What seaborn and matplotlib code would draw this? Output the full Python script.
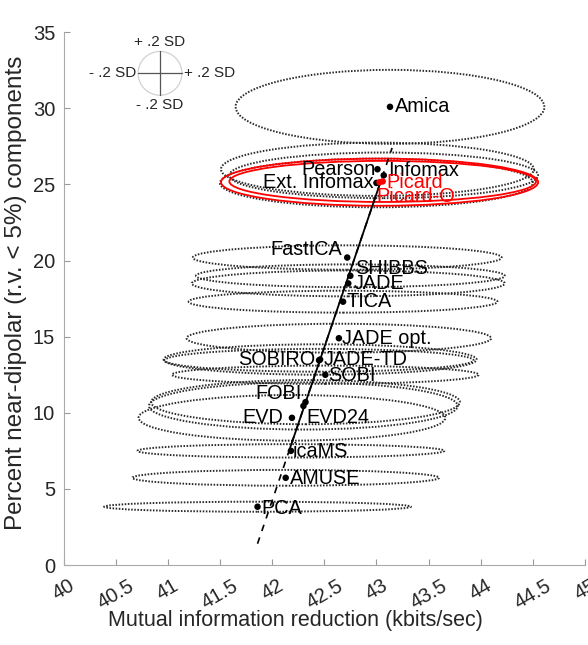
import numpy as np
import pandas as pd
import matplotlib
matplotlib.use('Agg')
import matplotlib.pyplot as plt
from matplotlib.patches import Ellipse
import seaborn as sns

# method summaries: mean mutual information reduction and percent near-dipolar
methods = ['Amica', 'Pearson', 'Infomax', 'Ext. Infomax', 'Picard', 'Picard-O',
           'FastICA', 'SHIBBS', 'JADE', 'TICA', 'JADE opt.', 'SOBIRO', 'JADE-TD',
           'SOBI', 'FOBI', 'EVD24', 'EVD', 'icaMS', 'AMUSE', 'PCA']
mir = [43.13, 43.01, 43.07, 43.00, 43.06, 43.03,
       42.72, 42.75, 42.73, 42.68, 42.64, 42.45, 42.46,
       42.51, 42.32, 42.30, 42.19, 42.18, 42.13, 41.86]
dipolar = [30.1, 26.0, 25.6, 25.1, 25.2, 25.15,
           20.2, 19.0, 18.5, 17.3, 14.9, 13.45, 13.5,
           12.5, 10.7, 10.45, 9.67, 7.5, 5.73, 3.83]
# ellipse half axes (x in kbits/sec, y in percent)
sd_x = [1.48, 1.50, 1.48, 1.50, 1.47, 1.52,
        1.48, 1.48, 1.50, 1.48, 1.46, 1.48, 1.50,
        1.47, 1.48, 1.48, 1.47, 1.47, 1.47, 1.47]
sd_y = [2.43, 1.75, 1.5, 1.6, 1.35, 1.55,
        0.8, 0.75, 0.85, 0.72, 0.95, 0.75, 1.0,
        0.6, 1.45, 1.55, 1.5, 0.44, 0.52, 0.33]
red_methods = ['Picard', 'Picard-O']

# regression line
fit_x = [41.86, 43.15]
fit_y = [1.4, 27.4]
solid_y = [7.5, 25.2]

df = pd.DataFrame({'method': methods, 'mir': mir, 'dipolar': dipolar,
                   'sdx': sd_x, 'sdy': sd_y})
df['red'] = df['method'].isin(red_methods)

# label placement: (dx, dy, ha)
label_pos = {
    'Amica': (0.05, 0.0, 'left'), 'Pearson': (-0.02, 0.0, 'right'),
    'Infomax': (0.04, 0.35, 'left'), 'Ext. Infomax': (-0.03, 0.0, 'right'),
    'Picard': (0.04, -0.1, 'left'), 'Picard-O': (-0.03, -0.95, 'left'),
    'FastICA': (-0.05, 0.5, 'right'), 'SHIBBS': (0.045, 0.5, 'left'),
    'JADE': (0.05, 0.0, 'left'), 'TICA': (0.035, 0.0, 'left'),
    'JADE opt.': (0.03, 0.0, 'left'), 'SOBIRO': (-0.04, 0.05, 'right'),
    'JADE-TD': (0.03, 0.0, 'left'), 'SOBI': (0.03, -0.05, 'left'),
    'FOBI': (-0.04, 0.57, 'right'), 'EVD24': (0.025, -0.75, 'left'),
    'EVD': (-0.08, 0.03, 'right'), 'icaMS': (0.02, -0.06, 'left'),
    'AMUSE': (0.04, -0.04, 'left'), 'PCA': (0.04, -0.11, 'left'),
}

sns.set_style('white')
plt.rcParams['font.family'] = ['Liberation Sans', 'DejaVu Sans']

fig = plt.figure(figsize=(5.88, 6.45), dpi=100)
ax = fig.add_axes([0.108, 0.124, 0.887, 0.826])

for _, r in df.iterrows():
    if r['red']:
        e = Ellipse((r['mir'], r['dipolar']), 2 * r['sdx'], 2 * r['sdy'],
                    fill=False, edgecolor='red', lw=1.3, zorder=2)
    else:
        e = Ellipse((r['mir'], r['dipolar']), 2 * r['sdx'], 2 * r['sdy'],
                    fill=False, edgecolor='#2a2a2a', lw=1.4, ls=(0, (0.8, 0.8)), zorder=1)
    ax.add_patch(e)

# fit line: dashed over whole range, solid in the middle
slope = (fit_x[1] - fit_x[0]) / (fit_y[1] - fit_y[0])
ax.plot(fit_x, fit_y, color='black', lw=1.2, ls=(0, (4, 4)), zorder=3)
sol_x = [fit_x[0] + (v - fit_y[0]) * slope for v in solid_y]
sns.lineplot(x=sol_x, y=solid_y, ax=ax, color='black', lw=1.3, zorder=3,
             sort=False, estimator=None)

sns.scatterplot(data=df, x='mir', y='dipolar', hue='red',
                palette={False: 'black', True: 'red'}, s=22, linewidth=0,
                legend=False, ax=ax, zorder=4)

for _, r in df.iterrows():
    dx, dy, ha = label_pos[r['method']]
    ax.text(r['mir'] + dx, r['dipolar'] + dy, r['method'], ha=ha, va='center',
            fontsize=14.3, color='red' if r['red'] else 'black', zorder=5)

# SD reference circle
cx, cy = 40.925, 32.3
rx, ry = 0.21, 1.44
ax.add_patch(Ellipse((cx, cy), 2 * rx, 2 * ry, fill=False, edgecolor='#cccccc', lw=0.8))
ax.plot([cx - rx, cx + rx], [cy, cy], color='#555555', lw=0.9)
ax.plot([cx, cx], [cy - ry, cy + ry], color='#555555', lw=0.9)
ax.text(cx, cy + ry + 0.15, '+ .2 SD', ha='center', va='bottom', fontsize=11)
ax.text(cx, cy - ry - 0.15, '- .2 SD', ha='center', va='top', fontsize=11)
ax.text(cx - rx - 0.02, cy, '- .2 SD', ha='right', va='center', fontsize=11)
ax.text(cx + rx + 0.02, cy, '+ .2 SD', ha='left', va='center', fontsize=11)

ax.set_xlim(40, 45)
ax.set_ylim(0, 35)
xt = np.arange(40, 45.01, 0.5)
ax.set_xticks(xt)
ax.set_xticklabels([('%g' % v) for v in xt], rotation=30)
ax.set_yticks(np.arange(0, 36, 5))
ax.tick_params(direction='in', length=4, color='#999999', labelsize=14.5,
               labelcolor='#262626', bottom=True, left=True, pad=6)
ax.tick_params(axis='x', pad=8)
for s in ['top', 'right']:
    ax.spines[s].set_visible(False)
for s in ['left', 'bottom']:
    ax.spines[s].set_color('#aaaaaa')
    ax.spines[s].set_linewidth(0.8)
ax.set_xlabel('Mutual information reduction (kbits/sec)', fontsize=15.5,
              color='#262626', labelpad=2)
ax.xaxis.set_label_coords(0.444, -0.085)
ax.set_ylabel('Percent near-dipolar (r.v. < 5%) components', fontsize=17.5,
              color='#262626')
ax.yaxis.set_label_coords(-0.07, 0.511)

fig.savefig('out.png', dpi=100)
